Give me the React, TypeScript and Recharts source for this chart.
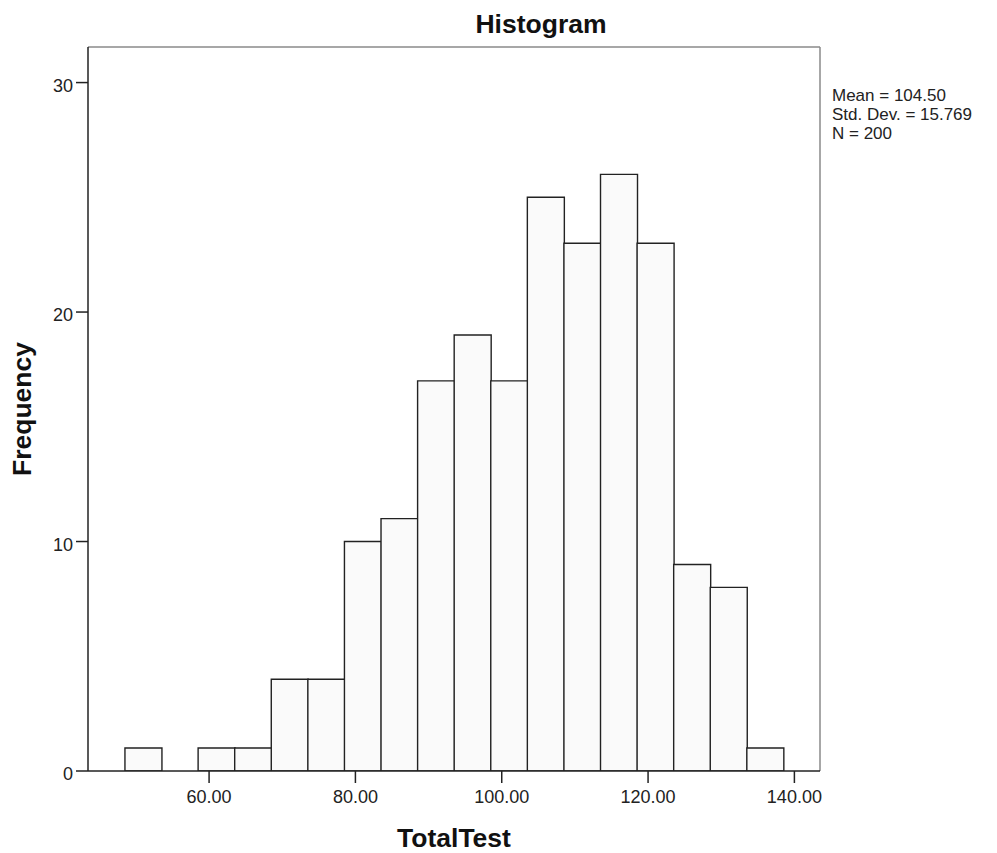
import React from "react";
import { ComposedChart, Bar, XAxis, YAxis, ReferenceLine, Label } from "recharts";

const binCenters = [51, 56, 61, 66, 71, 76, 81, 86, 91, 96, 101, 106, 111, 116, 121, 126, 131, 136];
const frequencies = [1, 0, 1, 1, 4, 4, 10, 11, 17, 19, 17, 25, 23, 26, 23, 9, 8, 1];
const xTicks = [60, 80, 100, 120, 140];
const yTicks = [0, 10, 20, 30];
const xDomain: [number, number] = [43.45, 143.5];
const yDomain: [number, number] = [0, 31.55];
const statsLines = ["Mean = 104.50", "Std. Dev. = 15.769", "N = 200"];
const titleText = "Histogram";
const xLabel = "TotalTest";
const yLabel = "Frequency";

const data = binCenters.map((c, i) => ({ x: c, count: frequencies[i] }));

const FONT = "Arial, 'Liberation Sans', sans-serif";
const AXIS = "#222";

const YTick = (props: any) => {
  const { x, y, payload } = props;
  return (
    <text x={x} y={y + 9} textAnchor="end" fontSize={18} fontFamily={FONT} fill={AXIS}>
      {payload.value}
    </text>
  );
};

export default function App() {
  return (
    <div style={{ position: "absolute", left: 0, top: 0, width: 997, height: 853, background: "#fff" }}>
      <ComposedChart
        width={997}
        height={853}
        data={data}
        margin={{ top: 47, right: 177, bottom: 0, left: 0 }}
        barCategoryGap={0}
        barGap={0}
      >
        <XAxis
          type="number"
          dataKey="x"
          domain={xDomain}
          ticks={xTicks}
          allowDataOverflow
          height={82}
          tickSize={12}
          tickMargin={7}
          tickFormatter={(v: number) => v.toFixed(2)}
          tick={{ fill: AXIS, fontSize: 18, fontFamily: FONT }}
          axisLine={{ stroke: AXIS, strokeWidth: 1.5 }}
          tickLine={{ stroke: AXIS, strokeWidth: 1.5 }}
        >
          <Label
            value={xLabel}
            position="insideBottom"
            offset={6}
            style={{ fontSize: 26.5, fontWeight: "bold", fontFamily: FONT, fill: "#111" }}
          />
        </XAxis>
        <YAxis
          type="number"
          domain={yDomain}
          ticks={yTicks}
          allowDataOverflow
          width={88}
          tickSize={12}
          tickMargin={3}
          tick={<YTick />}
          axisLine={{ stroke: AXIS, strokeWidth: 1.5 }}
          tickLine={{ stroke: AXIS, strokeWidth: 1.5 }}
        />
        <ReferenceLine y={yDomain[1]} stroke="#8a8a8a" strokeWidth={1.5} ifOverflow="extendDomain" />
        <ReferenceLine x={xDomain[1]} stroke="#8a8a8a" strokeWidth={1.5} ifOverflow="extendDomain" />
        <Bar
          dataKey="count"
          fill="#fafafa"
          stroke="#222"
          strokeWidth={1.4}
          isAnimationActive={false}
        />
        <text
          x={31}
          y={409}
          transform="rotate(-90 31 409)"
          textAnchor="middle"
          fontSize={26.5}
          fontWeight="bold"
          fontFamily={FONT}
          fill="#111"
        >
          {yLabel}
        </text>
        <text x={541} y={33} textAnchor="middle" fontSize={26.5} fontWeight="bold" fontFamily={FONT} fill="#111">
          {titleText}
        </text>
        {statsLines.map((s, i) => (
          <text key={s} x={832} y={101 + i * 19.2} fontSize={17} fontFamily={FONT} fill="#222">
            {s}
          </text>
        ))}
      </ComposedChart>
    </div>
  );
}
